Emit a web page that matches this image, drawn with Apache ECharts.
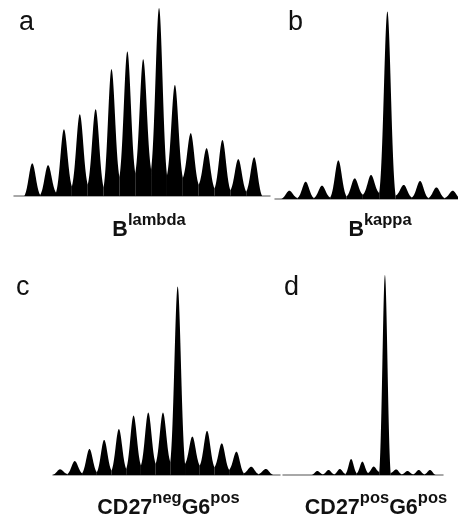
<!DOCTYPE html>
<html>
<head>
<meta charset="utf-8">
<script src="https://cdn.jsdelivr.net/npm/echarts@6/dist/echarts.min.js"></script>
<style>
html,body{margin:0;padding:0;background:#fff;}
#chart{width:458px;height:518px;}
</style>
</head>
<body>
<div id="chart"></div>
<script>
// Relative peak intensities (% of highest peak) per panel, peaks numbered 1..n
var peaksA = [17.4, 16.4, 35.5, 43.5, 46.2, 67.5, 76.9, 72.8, 100, 59.1, 33.4, 25.4, 29.8, 19.6, 20.6];
var valleysA = [0, 0.5, 1.8, 5, 6, 4.5, 10, 12, 14, 11, 9.6, 6, 4, 3, 2.3, 0];
var peaksB = [4.4, 9.2, 7.1, 20.6, 11, 12.8, 100, 7.5, 9.6, 6.2, 4.4];
var valleysB = [0, 0.5, 0.5, 0.8, 1.4, 2.3, 3.2, 1.8, 0.8, 0.5, 0.5, 0];
var peaksC = [3, 7.4, 13.8, 18.6, 24.4, 31.5, 33.1, 33.1, 100, 20.4, 23.4, 16.8, 12.4, 4.4, 3.2];
var valleysC = [0, 0.5, 0.9, 1.4, 2.3, 3.2, 5, 5.9, 6.8, 5.9, 5, 4.1, 2.7, 0.9, 0.5, 0];
var peaksD = [2, 2.5, 3, 8, 6.7, 4.2, 100, 2.8, 2, 2.5, 2.5];
var valleysD = [0, 0.3, 0.3, 0.5, 0.8, 1, 1.5, 1, 0.3, 0.3, 0.3, 0];

var panelLetters = ['a', 'b', 'c', 'd'];
var panelTitles = [
  '{m|B}{s|lambda}',
  '{m|B}{s|kappa}',
  '{m|CD27}{s|neg}{m|G6}{s|pos}',
  '{m|CD27}{s|pos}{m|G6}{s|pos}'
];

function buildData(peaks, valleys) {
  return peaks.map(function (h, i) { return [i + 1, h, valleys[i], valleys[i + 1]]; });
}

// peak outline: bell profile of width sigma (in peak spacings), reaching the valley at +-0.5
function makeRender(sigma) {
  var e0 = Math.exp(-0.25 / (2 * sigma * sigma));
  return function (params, api) {
    var x = api.value(0), h = api.value(1), vL = api.value(2), vR = api.value(3);
    var N = 30, pts = [];
    pts.push(api.coord([x - 0.5, 0]));
    for (var k = -N; k <= N; k++) {
      var d = k / (2 * N);
      var base = d < 0 ? vL : vR;
      var g = (Math.exp(-d * d / (2 * sigma * sigma)) - e0) / (1 - e0);
      pts.push(api.coord([x + d, base + (h - base) * g]));
    }
    pts.push(api.coord([x + 0.5, 0]));
    return { type: 'polygon', shape: { points: pts }, style: { fill: '#000' } };
  };
}

var grids = [
  { left: 14, top: 8, width: 256, height: 188 },
  { left: 275, top: 11.5, width: 183, height: 187.5 },
  { left: 53, top: 286.5, width: 227, height: 188.5 },
  { left: 283, top: 275, width: 160, height: 200 }
];
var xRanges = [[-0.15, 16], [0.125, 11.32], [0.52, 15.96], [-2.04, 12.15]];
var sigmas = [0.22, 0.21, 0.22, 0.22];
var datasets = [buildData(peaksA, valleysA), buildData(peaksB, valleysB), buildData(peaksC, valleysC), buildData(peaksD, valleysD)];

var xAxes = [], yAxes = [], series = [];
for (var i = 0; i < 4; i++) {
  xAxes.push({
    type: 'value', gridIndex: i, min: xRanges[i][0], max: xRanges[i][1],
    axisLine: { show: true, onZero: true, lineStyle: { color: '#8c8c8c', width: 1.5 } },
    axisTick: { show: false }, axisLabel: { show: false }, splitLine: { show: false }
  });
  yAxes.push({
    type: 'value', gridIndex: i, min: 0, max: 100, show: false, splitLine: { show: false }
  });
  series.push({
    type: 'custom', xAxisIndex: i, yAxisIndex: i, data: datasets[i],
    renderItem: makeRender(sigmas[i]), silent: true, z: 3
  });
}

var letterPos = [[19, 37.6], [288, 37.6], [16, 302.6], [284, 302.6]];
var titlePos = [[149, 241.5], [380, 241.5], [168.5, 519.5], [376, 519.5]];
var graphics = [];
for (var j = 0; j < 4; j++) {
  graphics.push({
    type: 'text', x: letterPos[j][0], y: letterPos[j][1],
    style: {
      text: panelLetters[j], fill: '#111', fontSize: 27, lineHeight: 30,
      fontFamily: 'Liberation Sans, Arial, sans-serif', align: 'left', verticalAlign: 'bottom'
    }
  });
  graphics.push({
    type: 'text', x: titlePos[j][0], y: titlePos[j][1],
    style: {
      text: panelTitles[j], fill: '#111', align: 'center', verticalAlign: 'bottom',
      fontFamily: 'Liberation Sans, Arial, sans-serif',
      rich: {
        m: { fontSize: 21.5, fontWeight: 'bold', lineHeight: 24, verticalAlign: 'bottom', fill: '#111', fontFamily: 'Liberation Sans, Arial, sans-serif' },
        s: { fontSize: 16.5, fontWeight: 'bold', lineHeight: 18, verticalAlign: 'bottom', padding: [0, 0, 13, 0], fill: '#111', fontFamily: 'Liberation Sans, Arial, sans-serif' }
      }
    }
  });
}

var chart = echarts.init(document.getElementById('chart'), null, { renderer: 'canvas' });
chart.setOption({
  backgroundColor: '#fff',
  animation: false,
  grid: grids,
  xAxis: xAxes,
  yAxis: yAxes,
  series: series,
  graphic: graphics
});
</script>
</body>
</html>
